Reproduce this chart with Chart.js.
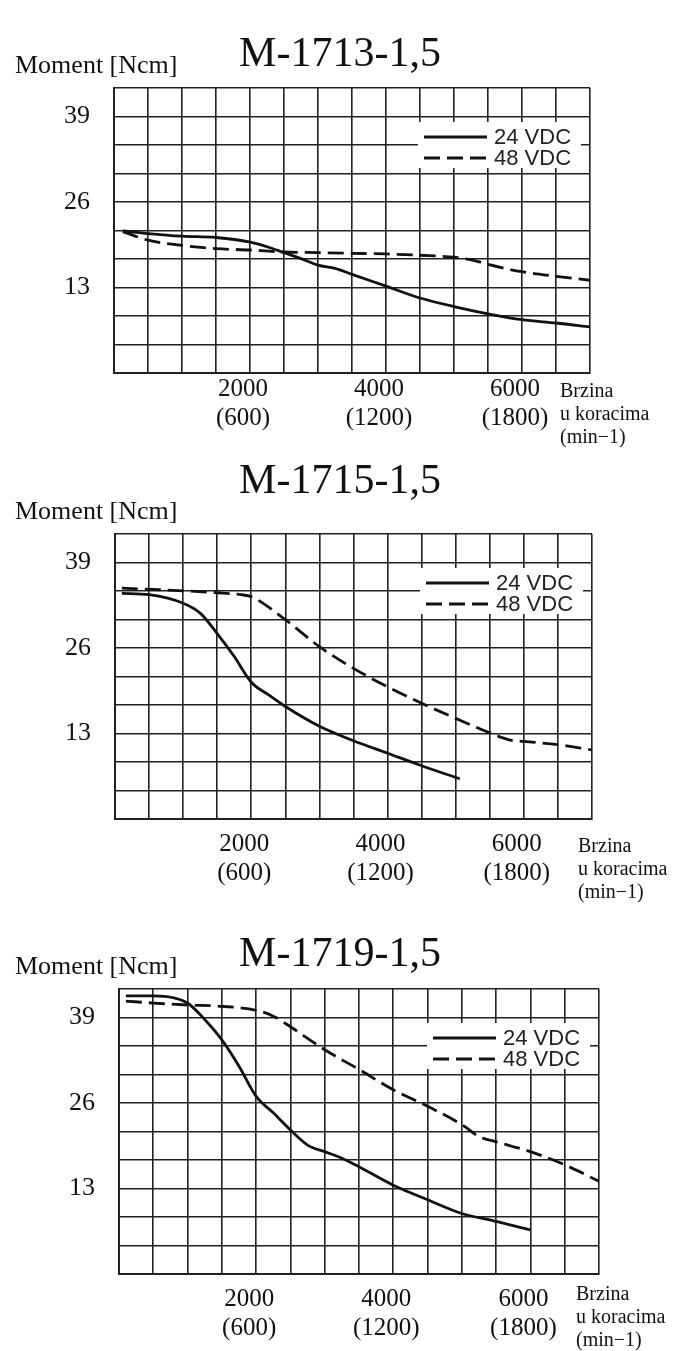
<!DOCTYPE html>
<html>
<head>
<meta charset="utf-8">
<script src="https://cdn.jsdelivr.net/npm/chart.js@4.4.1/dist/chart.umd.min.js"></script>
<style>
  body { margin: 0; background: #fff; }
  canvas { display: block; }
</style>
</head>
<body>
<canvas id="c1713" width="676" height="455"></canvas>
<canvas id="c1715" width="676" height="455"></canvas>
<canvas id="c1719" width="676" height="441"></canvas>
<script>
// ---- podaci (procitano sa slike) ----
const chartTitles = ["M-1713-1,5", "M-1715-1,5", "M-1719-1,5"];
const seriesLabels = ["24 VDC", "48 VDC"];
const yTickValues = [13, 26, 39];
const xTickValues = [2000, 4000, 6000];
const xTickLabels = [["2000", "(600)"], ["4000", "(1200)"], ["6000", "(1800)"]];
const yAxisTitle = "Moment [Ncm]";
const xAxisTitle = ["Brzina", "u koracima", "(min\u22121)"];

// M-1713-1,5
const m1713_24_x = [130, 500, 1000, 1500, 2000, 2250, 2500, 2750, 3000, 3250, 3500, 4000, 4500, 5000, 5500, 6000, 6500, 7000];
const m1713_24_y = [21.6, 21.2, 20.8, 20.6, 19.9, 19.2, 18.3, 17.4, 16.4, 15.9, 15.0, 13.2, 11.4, 10.1, 9.0, 8.1, 7.6, 7.0];
const m1713_48_x = [130, 500, 1000, 1500, 2000, 2500, 3000, 3500, 4000, 4500, 5000, 5300, 5500, 6000, 6500, 7000];
const m1713_48_y = [21.5, 20.2, 19.4, 18.9, 18.7, 18.4, 18.3, 18.2, 18.1, 17.9, 17.6, 17.1, 16.5, 15.4, 14.7, 14.1];

// M-1715-1,5
const m1715_24_x = [100, 500, 1000, 1250, 1500, 1750, 2000, 2250, 2500, 3000, 3500, 4000, 4500, 5060];
const m1715_24_y = [34.3, 34.1, 32.8, 31.3, 28.2, 24.7, 20.8, 18.9, 17.1, 14.1, 11.9, 10.0, 8.1, 6.1];
const m1715_48_x = [100, 1000, 1500, 1850, 2000, 2500, 3000, 3500, 4000, 4500, 5000, 5500, 5800, 6000, 6500, 7000];
const m1715_48_y = [35.1, 34.7, 34.4, 34.1, 33.8, 30.3, 26.2, 22.9, 20.1, 17.6, 15.3, 13.1, 12.0, 11.8, 11.3, 10.5];

// M-1719-1,5
const m1719_24_x = [100, 500, 800, 1000, 1250, 1500, 1750, 2000, 2250, 2500, 2750, 3000, 3250, 3500, 4000, 4500, 5000, 5500, 6000];
const m1719_24_y = [42.3, 42.3, 42.0, 41.2, 38.7, 35.6, 31.6, 27.0, 24.5, 21.9, 19.6, 18.6, 17.6, 16.3, 13.5, 11.3, 9.2, 8.0, 6.7];
const m1719_48_x = [100, 500, 1000, 1500, 2000, 2250, 2500, 3000, 3500, 4000, 4500, 5000, 5250, 5500, 6000, 6500, 7000];
const m1719_48_y = [41.5, 41.2, 40.9, 40.7, 40.1, 39.2, 37.6, 34.1, 31.1, 28.0, 25.5, 22.7, 20.9, 20.1, 18.6, 16.6, 14.1];

// ---- raspored (pozicije, ne podaci) ----
const frames = [
    { id: "c1713", h: 455, left: 114, right: 590, top: 88, bottom: 373, titleTop: 34, tickPad: 2,  brzDx: -30, brzDy: 24 },
    { id: "c1715", h: 455, left: 115, right: 592, top: 79, bottom: 364, titleTop: 6,  tickPad: 11, brzDx: -14, brzDy: 33 },
    { id: "c1719", h: 441, left: 119, right: 599, top: 79, bottom: 364, titleTop: 24, tickPad: 11, brzDx: -23, brzDy: 26 }
];
const series = [
    [[m1713_24_x, m1713_24_y], [m1713_48_x, m1713_48_y]],
    [[m1715_24_x, m1715_24_y], [m1715_48_x, m1715_48_y]],
    [[m1719_24_x, m1719_24_y], [m1719_48_x, m1719_48_y]]
];

const SERIF = "'Liberation Serif', 'Times New Roman', serif";
const SANS = "'Liberation Sans', Arial, sans-serif";
const INK = "#111";
const GRID = "#1e2226";
const Y_STEP = 13 / 3;
const X_MAX = 7000;
const X_H = 70;
const W = 676;
const PAD_L = 10;
const TITLE_CX = 340;
const TITLE_SIZE = 42;

const zip = (xs, ys) => xs.map((x, i) => ({ x, y: ys[i] }));

// tekst oko grafa + legenda u polju grafa
const motorText = {
    id: "motorText",
    afterDraw(chart, args, opts) {
        const { ctx, chartArea: a } = chart;
        ctx.save();
        ctx.fillStyle = INK;
        ctx.textBaseline = "alphabetic";
        ctx.textAlign = "left";

        ctx.font = "26px " + SERIF;
        ctx.fillText(yAxisTitle, 15, a.top - 15);

        ctx.font = "20px " + SERIF;
        xAxisTitle.forEach((t, i) => ctx.fillText(t, a.right + opts.brzDx, a.bottom + opts.brzDy + i * 23));

        // legenda
        ctx.fillStyle = "#fff";
        ctx.fillRect(a.right - 172, a.top + 34, 163, 46);
        ctx.font = "22px " + SANS;
        ctx.textBaseline = "middle";
        chart.data.datasets.forEach((ds, i) => {
            const y = a.top + 49 + i * 21;
            ctx.strokeStyle = ds.borderColor;
            ctx.lineWidth = 3;
            ctx.setLineDash(ds.borderDash || []);
            ctx.beginPath();
            ctx.moveTo(a.right - 166, y);
            ctx.lineTo(a.right - 103, y);
            ctx.stroke();
            ctx.setLineDash([]);
            ctx.fillStyle = "#222";
            ctx.fillText(ds.label, a.right - 96, y + 1);
        });
        ctx.restore();
    }
};

frames.forEach((f, k) => {
    // naslov je centriran u polju izmedju paddinga -> desni padding bira centar
    const padR = W - (2 * TITLE_CX - PAD_L);
    const rightW = (W - padR) - f.right;
    const yW = f.left - PAD_L;
    const canvas = document.getElementById(f.id);
    new Chart(canvas.getContext("2d"), {
        type: "line",
        data: {
            datasets: series[k].map(([xs, ys], i) => ({
                label: seriesLabels[i],
                data: zip(xs, ys),
                borderColor: INK,
                borderWidth: 2.8,
                borderDash: i === 1 ? [16, 7] : [],
                pointRadius: 0,
                fill: false,
                cubicInterpolationMode: "monotone"
            }))
        },
        options: {
            responsive: false,
            animation: false,
            layout: {
                padding: { top: f.titleTop, left: PAD_L, right: padR, bottom: f.h - f.bottom - X_H }
            },
            plugins: {
                legend: { display: false },
                tooltip: { enabled: false },
                title: {
                    display: true,
                    text: chartTitles[k],
                    color: INK,
                    font: { family: SERIF, size: TITLE_SIZE, weight: "normal", lineHeight: 1 },
                    padding: { top: 0, bottom: f.top - f.titleTop - TITLE_SIZE }
                },
                motorText: { brzDx: f.brzDx, brzDy: f.brzDy }
            },
            scales: {
                x: {
                    type: "linear",
                    min: 0,
                    max: X_MAX,
                    afterFit: s => { s.height = X_H; },
                    grid: { color: GRID, lineWidth: 1.6, drawTicks: false },
                    border: { color: GRID, width: 2 },
                    ticks: {
                        stepSize: 500,
                        autoSkip: false,
                        maxRotation: 0,
                        padding: f.tickPad,
                        labelOffset: -7,
                        color: INK,
                        font: { family: SERIF, size: 25, lineHeight: 1.15 },
                        callback: v => {
                            const i = xTickValues.indexOf(v);
                            return i >= 0 ? xTickLabels[i] : "";
                        }
                    }
                },
                y: {
                    min: 0,
                    max: Y_STEP * 10,
                    afterFit: s => { s.width = yW; },
                    afterBuildTicks: s => {
                        s.ticks = Array.from({ length: 11 }, (_, i) => ({ value: i * Y_STEP }));
                    },
                    grid: { color: GRID, lineWidth: 1.6, drawTicks: false },
                    border: { color: GRID, width: 2 },
                    ticks: {
                        autoSkip: false,
                        padding: 24,
                        color: INK,
                        font: { family: SERIF, size: 26 },
                        callback: v => {
                            const t = yTickValues.find(n => Math.abs(n - v) < 0.01);
                            return t === undefined ? "" : String(t);
                        }
                    }
                },
                // prazan prostor desno od grafa (za "Brzina ..." tekst)
                yRight: {
                    position: "right",
                    min: 0,
                    max: 1,
                    afterFit: s => { s.width = rightW; },
                    grid: { display: false, drawTicks: false },
                    border: { display: false },
                    ticks: { display: false }
                }
            }
        },
        plugins: [motorText]
    });
});
</script>
</body>
</html>
